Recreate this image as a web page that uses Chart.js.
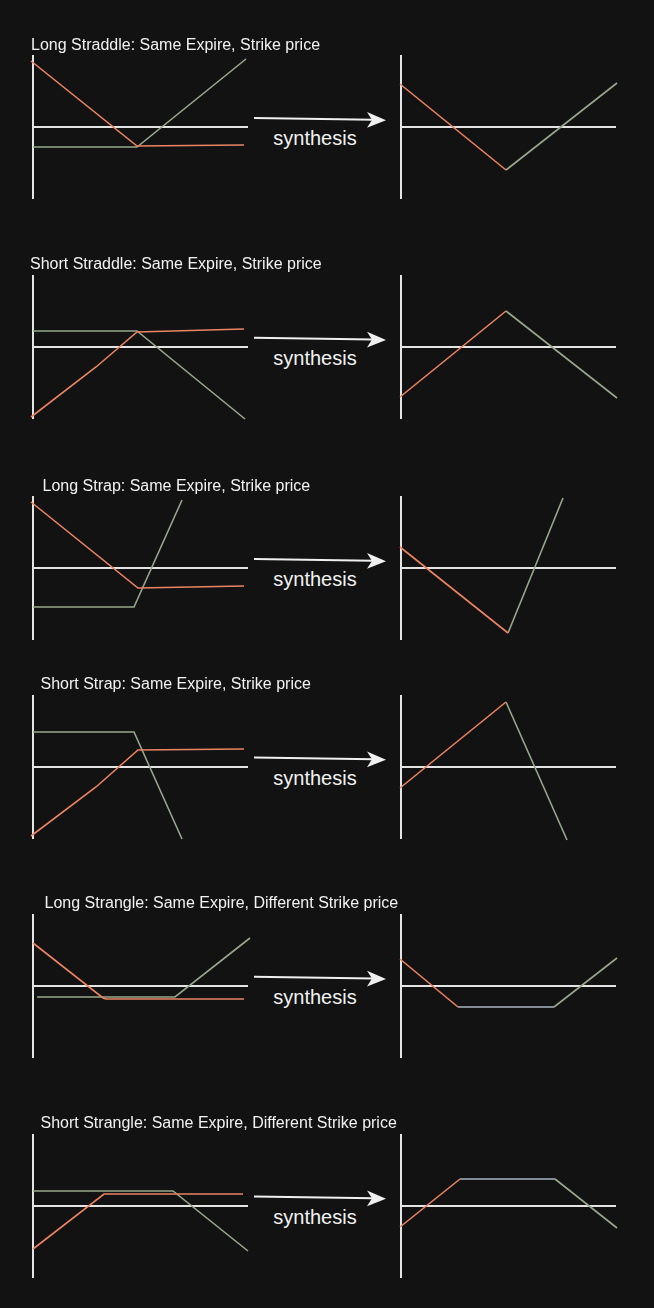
<!DOCTYPE html>
<html>
<head>
<meta charset="utf-8">
<script src="https://cdn.jsdelivr.net/npm/chart.js@4/dist/chart.umd.min.js"></script>
<style>
html,body{margin:0;padding:0;background:#121212;}
body{width:654px;height:1308px;position:relative;overflow:hidden;font-family:"Liberation Sans",Arial,Helvetica,sans-serif;}
.title{position:absolute;color:#f2f2f2;font-size:16px;line-height:16px;white-space:nowrap;}
.syn{position:absolute;color:#f2f2f2;font-size:20px;line-height:20px;white-space:nowrap;transform:translateX(-50%);}
canvas.panel{position:absolute;}
svg{position:absolute;left:0;top:0;}
</style>
</head>
<body>
<svg id="arrows" width="654" height="1308"></svg>
<script>
// ---------- DATA (payoff diagrams: [price, payoff]) ----------
const strategyTitles = [
  "Long Straddle: Same Expire, Strike price",
  "Short Straddle: Same Expire, Strike price",
  "Long Strap: Same Expire, Strike price",
  "Short Strap: Same Expire, Strike price",
  "Long Strangle: Same Expire, Different Strike price",
  "Short Strangle: Same Expire, Different Strike price"
];
const arrowLabel = "synthesis";

// Long Straddle
const longStraddlePut  = [[-0.2,6.6],[10.4,-1.9],[21.1,-1.8]];
const longStraddleCall = [[0,-2.0],[10.4,-2.0],[21.3,6.8]];
const longStraddleSumA = [[-0.1,4.3],[10.5,-4.3]];
const longStraddleSumB = [[10.5,-4.3],[21.6,4.4]];

// Short Straddle
const shortStraddlePut  = [[-0.2,-7.0],[6.3,-2.0],[10.4,1.5],[21.1,1.8]];
const shortStraddleCall = [[0,1.6],[10.4,1.6],[21.2,-7.2]];
const shortStraddleSumA = [[-0.1,-5.0],[10.5,3.6]];
const shortStraddleSumB = [[10.5,3.6],[21.6,-5.1]];

// Long Strap
const longStrapPut  = [[-0.2,6.6],[10.5,-2.0],[21.1,-1.8]];
const longStrapCall = [[0,-3.9],[10.1,-3.9],[14.9,6.8]];
const longStrapSumA = [[-0.1,2.1],[10.7,-6.5]];
const longStrapSumB = [[10.7,-6.5],[16.2,7.0]];

// Short Strap
const shortStrapPut  = [[-0.2,-6.9],[6.3,-2.0],[10.5,1.7],[21.1,1.8]];
const shortStrapCall = [[0,3.5],[10.1,3.5],[14.9,-7.2]];
const shortStrapSumA = [[-0.1,-2.1],[10.5,6.5]];
const shortStrapSumB = [[10.5,6.5],[16.6,-7.3]];

// Long Strangle
const longStranglePut     = [[0,4.3],[7.0,-1.2],[7.3,-1.3],[21.1,-1.3]];
const longStrangleCall    = [[0.4,-1.1],[14.2,-1.1],[21.7,4.8]];
const longStrangleSumA    = [[-0.1,2.7],[5.7,-2.1]];
const longStrangleSumFlat = [[5.7,-2.1],[15.3,-2.1]];
const longStrangleSumB    = [[15.3,-2.1],[21.6,2.8]];

// Short Strangle
const shortStranglePut     = [[0,-4.3],[7.1,1.2],[21.0,1.2]];
const shortStrangleCall    = [[0,1.5],[14.0,1.5],[21.5,-4.5]];
const shortStrangleSumA    = [[-0.1,-2.1],[5.9,2.7]];
const shortStrangleSumFlat = [[5.9,2.7],[15.4,2.7]];
const shortStrangleSumB    = [[15.4,2.7],[21.6,-2.2]];

// ---------- STYLE / LAYOUT ----------
const C_PUT = '#ec8462', C_CALL = '#97a88b', C_FLAT = '#a9b3c1', C_AXIS = '#e4e4e4';
const rows = [
  {left:[[longStraddlePut,C_PUT],[longStraddleCall,C_CALL]], right:[[longStraddleSumA,C_PUT],[longStraddleSumB,C_CALL]]},
  {left:[[shortStraddlePut,C_PUT],[shortStraddleCall,C_CALL]], right:[[shortStraddleSumA,C_PUT],[shortStraddleSumB,C_CALL]]},
  {left:[[longStrapPut,C_PUT],[longStrapCall,C_CALL]], right:[[longStrapSumA,C_PUT],[longStrapSumB,C_CALL]]},
  {left:[[shortStrapPut,C_PUT],[shortStrapCall,C_CALL]], right:[[shortStrapSumA,C_PUT],[shortStrapSumB,C_CALL]]},
  {left:[[longStranglePut,C_PUT],[longStrangleCall,C_CALL]], right:[[longStrangleSumA,C_PUT],[longStrangleSumFlat,C_FLAT],[longStrangleSumB,C_CALL]]},
  {left:[[shortStranglePut,C_PUT],[shortStrangleCall,C_CALL]], right:[[shortStrangleSumA,C_PUT],[shortStrangleSumFlat,C_FLAT],[shortStrangleSumB,C_CALL]]}
];
const rowAxisY = [127.3, 347, 568.3, 766.7, 986, 1205.7];
const titleX = [31, 30, 42.5, 40.5, 44.5, 40.5];
const PANEL_W = 215, HALF_H = 72, PAD = 14;
const X_MAX = 21.5, Y_LIM = 7.2;

function makePanel(x0, axisY, series) {
  const cv = document.createElement('canvas');
  cv.className = 'panel';
  const w = PANEL_W + 2*PAD, h = 2*HALF_H + 2*PAD;
  cv.width = w; cv.height = h;
  cv.style.width = w + 'px'; cv.style.height = h + 'px';
  cv.style.left = (x0 - PAD) + 'px';
  cv.style.top = (axisY - HALF_H - PAD) + 'px';
  document.body.appendChild(cv);
  const zeroOnly = s => { s.ticks = [{value: 0}]; };
  const axisGrid = {color: C_AXIS, lineWidth: 2, drawTicks: false};
  new Chart(cv, {
    type: 'line',
    data: {
      datasets: series.map(([pts, col]) => ({
        data: pts.map(([x, y]) => ({x, y})),
        borderColor: col, borderWidth: 1.6, pointRadius: 0,
        fill: false, tension: 0, clip: false
      }))
    },
    options: {
      responsive: false, animation: false, devicePixelRatio: 1,
      layout: {padding: PAD, autoPadding: false},
      plugins: {legend: {display: false}, tooltip: {enabled: false}},
      events: [],
      scales: {
        x: {type: 'linear', min: 0, max: X_MAX, afterBuildTicks: zeroOnly,
            ticks: {display: false}, grid: axisGrid, border: {display: false}},
        y: {type: 'linear', min: -Y_LIM, max: Y_LIM, afterBuildTicks: zeroOnly,
            ticks: {display: false}, grid: axisGrid, border: {display: false}}
      }
    }
  });
}

const svg = document.getElementById('arrows');
const NS = 'http://www.w3.org/2000/svg';
rows.forEach((row, i) => {
  const ay = rowAxisY[i];
  makePanel(33, ay, row.left);
  makePanel(401, ay, row.right);

  const t = document.createElement('div');
  t.className = 'title';
  t.textContent = strategyTitles[i];
  t.style.left = titleX[i] + 'px';
  t.style.top = (ay - 82.3 - 8.5) + 'px';
  document.body.appendChild(t);

  const s = document.createElement('div');
  s.className = 'syn';
  s.textContent = arrowLabel;
  s.style.left = '315px';
  s.style.top = (ay + 10.7 - 9.7) + 'px';
  document.body.appendChild(s);

  const ys = ay - 9.3;
  const line = document.createElementNS(NS, 'line');
  line.setAttribute('x1', 254); line.setAttribute('y1', ys);
  line.setAttribute('x2', 373); line.setAttribute('y2', ys + 1.8);
  line.setAttribute('stroke', '#f0f0f0'); line.setAttribute('stroke-width', 2);
  svg.appendChild(line);
  const head = document.createElementNS(NS, 'polygon');
  head.setAttribute('points', `386,${ys+2.3} 367,${ys-6} 372,${ys+1.9} 367,${ys+9.8}`);
  head.setAttribute('fill', '#f0f0f0');
  svg.appendChild(head);
});
</script>
</body>
</html>
